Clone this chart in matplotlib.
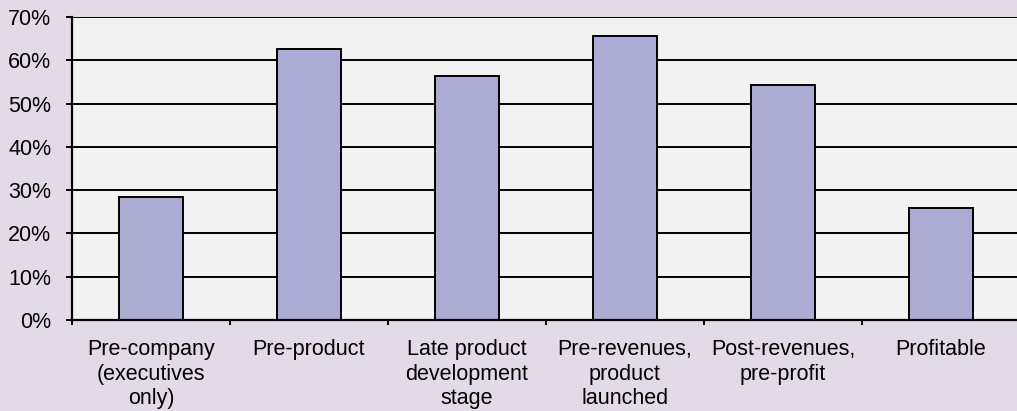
import matplotlib.pyplot as plt
import numpy as np

plt.rcParams['font.family'] = ['Liberation Sans', 'DejaVu Sans']

categories = ['Pre-company\n(executives\nonly)', 'Pre-product', 'Late product\ndevelopment\nstage',
              'Pre-revenues,\nproduct\nlaunched', 'Post-revenues,\npre-profit', 'Profitable']
values = [28.4, 62.5, 56.3, 65.6, 54.3, 25.9]
yticks = [0, 10, 20, 30, 40, 50, 60, 70]

fig = plt.figure(figsize=(10.17, 4.11), dpi=100)
fig.patch.set_facecolor('#E3DAE7')
ax = fig.add_axes([72 / 1017, 1 - 320 / 411, 1 - 72 / 1017, (320 - 17) / 411])
ax.set_facecolor('#F2F2F2')

x = np.arange(len(categories))
ax.bar(x, values, width=0.405, color='#ABABD4', edgecolor='black', linewidth=1.4, zorder=3)

ax.set_ylim(0, 70)
ax.set_xlim(-0.5, 5.5 - 3 / 158)
ax.set_yticks(yticks)
ax.set_yticklabels([f'{v}%' for v in yticks], fontsize=15.5)
for v in yticks[1:]:
    ax.axhline(v, color='black', linewidth=1.4, zorder=1)

ax.set_xticks(x)
ax.set_xticklabels(categories, fontsize=15.5, linespacing=1.22)
ax.set_xticks(np.arange(-0.5, 5.5, 1), minor=True)
ax.tick_params(axis='x', which='major', length=0, pad=14)
ax.tick_params(axis='x', which='minor', length=3.6, width=1.4, direction='out')
ax.tick_params(axis='y', length=4.5, width=1.4, direction='out', pad=10.5)

for s in ['top', 'right']:
    ax.spines[s].set_visible(False)
ax.spines['left'].set_linewidth(1.6)
ax.spines['bottom'].set_linewidth(1.6)
ax.spines['bottom'].set_zorder(4)

plt.savefig('out.png', dpi=100, facecolor=fig.get_facecolor())
